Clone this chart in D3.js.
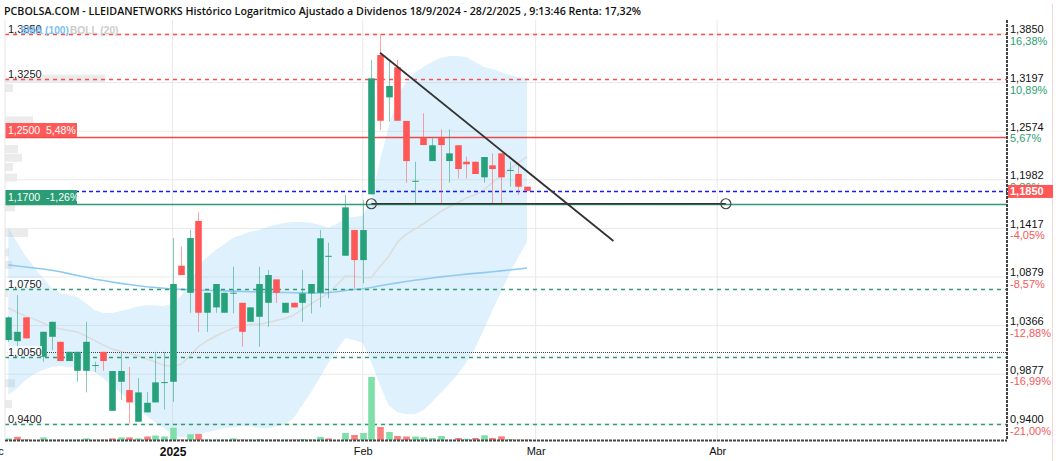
<!DOCTYPE html>
<html>
<head>
<meta charset="utf-8">
<script src="https://cdn.jsdelivr.net/npm/d3@7"></script>
<style>
  body { margin: 0; background: #fff; }
  svg { display: block; font-family: "Liberation Sans", Arial, sans-serif; }
</style>
</head>
<body>
<svg></svg>
<script>
const width = 1056;
const height = 461;

// daily candles, one slot per weekday (null = no session drawn)
const open = [1.0218,1.0207,1.0451,null,1.0049,1.0251,1.0200,1.0007,0.9910,0.9910,
  0.9960,1.0099,0.9524,0.9803,0.9722,0.9421,0.9509,0.9604,0.9790,0.9803,
  1.1001,1.0709,1.1501,1.0499,1.0555,1.0499,1.0700,1.0603,1.0405,1.0457,
  1.0603,1.0853,1.0499,1.0603,1.0603,1.0703,1.0709,1.1100,null,1.1111,
  1.1398,1.1063,1.1810,1.3564,1.3005,1.3399,1.2703,1.1960,1.2494,1.2207,
  1.2494,1.2207,1.2400,1.2199,1.2199,1.2011,1.2155,1.2301,1.2090,1.2051,1.1900]
const close = [1.0451,1.0302,1.0235,null,1.0302,1.0405,1.0007,1.0099,1.0099,1.0200,
  0.9967,1.0007,0.9908,0.9908,0.9604,0.9700,0.9600,0.9797,0.9800,1.0803,
  1.0900,1.1308,1.0499,1.0709,1.0803,1.0709,1.0710,1.0302,1.0555,1.0803,
  1.0900,1.0709,1.0603,1.0555,1.0703,1.0803,1.1305,1.1110,null,1.1658,
  1.1063,1.1398,1.3253,1.2706,1.3152,1.2706,1.2207,1.1970,1.2403,1.2400,
  1.2403,1.2301,1.2111,1.2168,1.2051,1.2256,1.2111,1.2011,1.2100,1.1900,1.1850]
const high = [1.0460,1.0685,1.0451,null,1.0302,1.0405,1.0200,1.0099,1.0099,1.0405,
  1.0000,1.0099,0.9908,1.0099,0.9948,0.9839,0.9703,1.0099,1.0099,1.1308,
  1.1211,1.1398,1.1600,1.0709,1.0803,1.0709,1.0990,1.0603,1.0555,1.0990,
  1.0954,1.0853,1.0603,1.0603,1.0954,1.0803,1.1398,1.1255,null,1.1802,
  1.1398,1.1743,1.3497,1.3850,1.3497,1.3497,1.2703,1.2199,1.2800,1.2486,
  1.2598,1.2598,1.2400,1.2260,1.2199,1.2256,1.2301,1.2301,1.2199,1.2150,1.1900]
const low = [1.0200,1.0049,1.0235,null,1.0000,1.0116,1.0007,1.0007,0.9803,0.9700,
  0.9901,0.9910,0.9524,0.9626,0.9406,0.9421,0.9509,0.9604,0.9537,0.9610,
  1.0900,1.0499,1.0302,1.0302,1.0499,1.0499,1.0492,1.0150,1.0405,1.0150,
  1.0354,1.0600,1.0499,1.0555,1.0405,1.0492,1.0555,1.0650,null,1.1111,
  1.0756,1.0810,1.1810,1.2589,1.2694,1.2706,1.1947,1.1705,1.2403,1.2207,
  1.1705,1.1947,1.1999,1.1999,1.2051,1.1947,1.1705,1.1705,1.1900,1.1802,1.1850]

// volume (thousand shares) and its bar colour ('g' up, 'r' down)
const volume = [16,32,6,null,26,4,4,4,4,16,4,4,16,26,26,16,35,45,35,123,
  5,58,61,5,5,5,16,5,5,10,5,5,5,5,10,5,32,15,null,70,
  50,70,630,130,80,40,35,35,27,20,40,3,20,13,20,47,20,37,10,4,4]
const volSide = ['g','r','r',null,'g','g','r','g','g','g','g','r','r','g','r','g','r','g','g','g',
  'r','g','r','g','g','g','g','r','g','g','g','r','g','r','g','g','g','r',null,'g',
  'r','g','g','r','g','r','r','g','g','g','g','g','r','g','r','g','r','r','g','r','r']

// Bollinger (20) and SMA (100)
const bollUpper = [1.1423,1.1265,1.1109,1.0988,1.0868,1.0760,1.0707,1.0685,1.0664,1.0599,
  1.0526,1.0495,1.0495,1.0516,1.0537,1.0568,1.0578,1.0578,1.0568,1.0599,
  1.0674,1.0825,1.0999,1.1098,1.1175,1.1242,1.1310,1.1344,1.1378,1.1400,
  1.1434,1.1457,1.1480,1.1491,1.1491,1.1480,1.1457,1.1423,1.1468,1.1537,
  1.1548,1.1560,1.1745,1.2222,1.2627,1.3009,1.3205,1.3323,1.3403,1.3470,
  1.3523,1.3550,1.3550,1.3537,1.3470,1.3403,1.3376,1.3337,1.3297,1.3271,1.3258]
const bollMid = [1.0549,1.0503,1.0464,1.0433,1.0393,1.0354,1.0332,1.0316,1.0301,1.0258,
  1.0212,1.0167,1.0128,1.0105,1.0081,1.0059,1.0026,0.9998,0.9964,0.9952,
  0.9976,1.0056,1.0152,1.0211,1.0259,1.0301,1.0340,1.0362,1.0379,1.0380,
  1.0397,1.0418,1.0439,1.0473,1.0534,1.0591,1.0648,1.0705,1.0793,1.0888,
  1.0884,1.0874,1.0871,1.0996,1.1102,1.1260,1.1349,1.1408,1.1467,1.1538,
  1.1608,1.1665,1.1714,1.1767,1.1804,1.1863,1.1951,1.2027,1.2110,1.2185,1.2262]
const bollLower = [0.9674,0.9741,0.9819,0.9878,0.9917,0.9947,0.9957,0.9947,0.9937,0.9917,
  0.9897,0.9838,0.9761,0.9693,0.9625,0.9549,0.9473,0.9417,0.9360,0.9304,
  0.9277,0.9286,0.9304,0.9323,0.9342,0.9360,0.9370,0.9379,0.9379,0.9360,
  0.9360,0.9379,0.9398,0.9454,0.9577,0.9702,0.9838,0.9986,1.0117,1.0239,
  1.0219,1.0188,0.9996,0.9770,0.9577,0.9511,0.9492,0.9492,0.9530,0.9606,
  0.9693,0.9780,0.9878,0.9996,1.0137,1.0322,1.0526,1.0717,1.0923,1.1098,1.1265]
const sma100 = [1.1010,1.0999,1.0988,1.0977,1.0966,1.0952,1.0935,1.0915,1.0895,1.0875,
  1.0855,1.0840,1.0825,1.0810,1.0797,1.0785,1.0774,1.0766,1.0758,1.0750,
  1.0746,1.0742,1.0739,1.0736,1.0733,1.0730,1.0727,1.0724,1.0721,1.0718,
  1.0716,1.0714,1.0712,1.0710,1.0708,1.0707,1.0708,1.0710,1.0720,1.0735,
  1.0745,1.0752,1.0765,1.0785,1.0800,1.0815,1.0830,1.0843,1.0855,1.0868,
  1.0880,1.0890,1.0900,1.0910,1.0918,1.0926,1.0935,1.0945,1.0955,1.0965,1.0977]

// month ticks (slot index) and labels
const monthTicks = [-1.5, 19, 41, 61, 82]
const monthLabels = ['Dic', '2025', 'Feb', 'Mar', 'Abr']

// right price scale
const priceTicks = [1.385, 1.3197, 1.2574, 1.1982, 1.1417, 1.0879, 1.0366, 0.9877, 0.94]
const pctTicks = ['16,38%', '10,89%', '5,67%', '0,80%', '-4,05%', '-8,57%', '-12,88%', '-16,99%', '-21,00%']

// drawn levels and their kind
const levels = [1.385, 1.325, 1.25, 1.185, 1.17, 1.075, 1.01, 1.005, 0.94]
const levelKind = ['resDash', 'resDash', 'res', 'last', 'sup', 'supDash', 'dots', 'supDash', 'supDash']
const levelPct = { 1.25: '5,48%', 1.17: '-1,26%' }
const lastPrice = 1.185

// trend lines: [slot, price]
const resistance = [[43, 1.3595], [70, 1.1274]]
const support = [[42, 1.17], [83, 1.17]]

// volume by price (left side): price and bar length
const profilePrice = [1.325, 1.3126, 1.271, 1.2354, 1.2248, 1.2135, 1.2008, 1.1659, 1.1365, 1.1148, 1.1010, 1.0707, 1.026, 0.979, 0.9587]
const profileSize = [100, 8, 28, 13, 17, 8, 12, 10, 23, 4, 7, 3, 10, 10, 7]

const fmt = v => d3.format('.4f')(v).replace('.', ',')

const svg = d3.select('svg')
  .attr('width', width)
  .attr('height', height)

const plot = { left: 5, right: 1007, top: 20, bottom: 440 }

const x = d3.scaleLinear().domain([0, 60]).range([8.3, 527])
const y = d3.scaleLog().domain([0.94, 1.385]).range([424, 34])
const vy = d3.scaleLinear().domain([0, 630]).range([plot.bottom, plot.bottom - 63])

svg.append('defs').append('clipPath').attr('id', 'clip')
  .append('rect')
  .attr('x', plot.left).attr('y', plot.top)
  .attr('width', plot.right - plot.left).attr('height', plot.bottom - plot.top)

// outer frame on the right
svg.append('line').attr('x1', 1052.5).attr('x2', 1052.5).attr('y1', 4).attr('y2', height)
  .attr('stroke', '#f3d4d4')

// title
svg.append('text')
  .attr('x', 4).attr('y', 15)
  .attr('font-family', '"Open Sans", sans-serif')
  .attr('font-weight', 600)
  .attr('font-size', 10.7)
  .attr('fill', '#111')
  .text('PCBOLSA.COM - LLEIDANETWORKS Histórico Logaritmico Ajustado a Dividenos 18/9/2024 - 28/2/2025 , 9:13:46 Renta: 17,32%')

const g = svg.append('g').attr('clip-path', 'url(#clip)')

// grid
g.append('g').selectAll('line')
  .data(priceTicks)
  .join('line')
    .attr('x1', plot.left).attr('x2', plot.right)
    .attr('y1', d => y(d)).attr('y2', d => y(d))
    .attr('stroke', '#e9e9e9')
g.append('g').selectAll('line')
  .data(monthTicks.filter(d => d > 0))
  .join('line')
    .attr('x1', d => x(d)).attr('x2', d => x(d))
    .attr('y1', plot.top).attr('y2', plot.bottom)
    .attr('stroke', '#e9e9e9')

// volume profile
g.append('g').selectAll('rect')
  .data(profilePrice)
  .join('rect')
    .attr('x', plot.left)
    .attr('y', d => y(d) - 4)
    .attr('width', (d, i) => profileSize[i])
    .attr('height', 8)
    .attr('fill', '#ebebeb')

// bollinger band
const idx = d3.range(bollUpper.length)
g.append('path')
  .attr('fill', '#8ccbf5')
  .attr('fill-opacity', 0.28)
  .attr('d', d3.area().x(i => x(i)).y0(i => y(bollLower[i])).y1(i => y(bollUpper[i]))(idx))
g.append('path')
  .attr('fill', 'none')
  .attr('stroke', '#dcdcdc')
  .attr('stroke-width', 1.5)
  .attr('d', d3.line().x(i => x(i)).y(i => y(bollMid[i]))(idx))
g.append('path')
  .attr('fill', 'none')
  .attr('stroke', '#8fcaf3')
  .attr('stroke-width', 1.6)
  .attr('d', d3.line().x(i => x(i)).y(i => y(sma100[i]))(idx))

// level lines
const kindStyle = {
  resDash: { stroke: '#ff4d4d', dash: '4,4', w: 1.3 },
  res: { stroke: '#f04848', dash: null, w: 1.3 },
  last: { stroke: '#1a1aff', dash: '4,3', w: 1.3 },
  sup: { stroke: '#2f9c74', dash: null, w: 1.5 },
  supDash: { stroke: '#2f9c74', dash: '4,4', w: 1.3 },
  dots: { stroke: '#444', dash: '1,1', w: 1.2 }
}
g.append('g').selectAll('line')
  .data(levels)
  .join('line')
    .attr('x1', plot.left).attr('x2', plot.right)
    .attr('y1', d => Math.round(y(d)) + 0.5).attr('y2', d => Math.round(y(d)) + 0.5)
    .attr('stroke', (d, i) => kindStyle[levelKind[i]].stroke)
    .attr('stroke-width', (d, i) => kindStyle[levelKind[i]].w)
    .attr('stroke-dasharray', (d, i) => kindStyle[levelKind[i]].dash)

// volume bars
const vIdx = idx.filter(i => volume[i] != null)
g.append('g').selectAll('rect')
  .data(vIdx)
  .join('rect')
    .attr('x', i => Math.round(x(i)) - 2.8)
    .attr('width', 6.6)
    .attr('y', i => vy(volume[i]))
    .attr('height', i => plot.bottom - vy(volume[i]))
    .attr('fill', i => volSide[i] === 'g' ? '#7edfa8' : '#fa8080')

// candles
const up = '#26a17a'
const down = '#ff5656'
const cIdx = idx.filter(i => open[i] != null)
const candles = g.append('g').selectAll('g')
  .data(cIdx)
  .join('g')
candles.append('line')
  .attr('x1', i => Math.round(x(i)) + 0.5).attr('x2', i => Math.round(x(i)) + 0.5)
  .attr('y1', i => y(high[i])).attr('y2', i => y(low[i]))
  .attr('stroke', i => close[i] >= open[i] ? up : down)
  .attr('stroke-opacity', 0.55)
candles.append('rect')
  .attr('x', i => Math.round(x(i)) - 2.8)
  .attr('width', 6.6)
  .attr('y', i => y(Math.max(open[i], close[i])))
  .attr('height', i => Math.max(1, Math.abs(y(open[i]) - y(close[i]))))
  .attr('fill', i => close[i] >= open[i] ? up : down)

// trend lines
const tl = d3.line().x(d => x(d[0])).y(d => y(d[1]))
g.append('path').attr('d', tl(resistance)).attr('stroke', '#333').attr('stroke-width', 1.8).attr('fill', 'none')
g.append('path').attr('d', tl(support)).attr('stroke', '#333').attr('stroke-width', 1.6).attr('fill', 'none')
g.selectAll(null)
  .data(support)
  .enter()
  .append('circle')
  .attr('r', 5)
  .attr('transform', d => `translate(${x(d[0])},${y(d[1])})`)
  .attr('fill', 'none')
  .attr('stroke', '#444')
  .attr('stroke-width', 1.2)

// left level labels
const left = svg.append('g').attr('font-size', 11)
levels.filter(d => d !== lastPrice && d !== 1.01).forEach(d => {
  const ly = Math.round(y(d))
  if (levelPct[d]) {
    const col = d > lastPrice ? '#ff5a5a' : '#2a9d74'
    left.append('rect').attr('x', plot.left).attr('y', ly - 14).attr('width', 72).attr('height', 14).attr('fill', col)
    left.append('text').attr('x', 8).attr('y', ly - 3).attr('fill', '#fff').attr('font-size', 10.5)
      .attr('xml:space', 'preserve')
      .text(`${fmt(d)}  ${levelPct[d]}`)
  } else {
    left.append('rect').attr('x', plot.left).attr('y', ly - 11).attr('width', 37).attr('height', 10).attr('fill', '#fff').attr('fill-opacity', 0.85)
    left.append('text').attr('x', 8).attr('y', ly - 1).attr('fill', '#222').text(fmt(d))
  }
})

// legend, drawn over the top label
svg.append('text').attr('x', 20).attr('y', 33.5).attr('font-size', 10.2).attr('font-weight', 'bold')
  .attr('fill', '#7bc0f3').text('SMA (100)')
svg.append('text').attr('x', 70).attr('y', 33.5).attr('font-size', 10.2).attr('font-weight', 'bold')
  .attr('fill', '#cccccc').text('BOLL (20)')

// right axis
const axis = svg.append('g')
  .attr('transform', `translate(${plot.right},0)`)
  .call(d3.axisRight(y).tickValues(priceTicks).tickFormat(fmt).tickSize(0).tickPadding(3))
axis.select('.domain').remove()
axis.selectAll('.tick text')
  .attr('font-size', 11).attr('font-family', '"Liberation Sans", Arial, sans-serif')
  .attr('fill', '#111').attr('dy', '-0.1em')
axis.selectAll('.tick').append('text')
  .attr('x', 3).attr('dy', '0.95em')
  .attr('font-size', 11).attr('font-family', '"Liberation Sans", Arial, sans-serif')
  .attr('fill', (d, i) => pctTicks[i].startsWith('-') ? '#f25a5a' : '#2e9e74')
  .text((d, i) => pctTicks[i])

// last price tag
svg.append('rect').attr('x', plot.right + 1).attr('y', y(lastPrice) - 6).attr('width', 45).attr('height', 13).attr('fill', '#ff5656')
svg.append('text').attr('x', plot.right + 3).attr('y', y(lastPrice) + 4.5).attr('font-size', 11).attr('font-weight', 'bold')
  .attr('fill', '#fff').text(fmt(lastPrice))

// axis frames
svg.append('line').attr('x1', plot.right).attr('x2', plot.right).attr('y1', plot.top).attr('y2', plot.bottom)
  .attr('stroke', '#444').attr('stroke-width', 2).attr('stroke-dasharray', '3,1')
svg.append('line').attr('x1', plot.left).attr('x2', plot.right).attr('y1', plot.bottom + 0.5).attr('y2', plot.bottom + 0.5)
  .attr('stroke', '#444').attr('stroke-width', 2).attr('stroke-dasharray', '3,1')
svg.append('line').attr('x1', plot.left).attr('x2', plot.left).attr('y1', plot.top).attr('y2', plot.bottom)
  .attr('stroke', '#e6e6e6')

// month axis
const xAxis = svg.append('g')
  .attr('transform', `translate(0,${plot.bottom + 4})`)
  .call(d3.axisBottom(x).tickValues(monthTicks).tickFormat((d, i) => monthLabels[i]).tickSize(0))
xAxis.select('.domain').remove()
xAxis.selectAll('.tick text')
  .attr('font-family', '"Liberation Sans", Arial, sans-serif').attr('fill', '#111')
  .attr('font-weight', (d, i) => monthLabels[i] === '2025' ? 'bold' : null)
  .attr('font-size', (d, i) => monthLabels[i] === '2025' ? 12 : 11)
</script>
</body>
</html>
